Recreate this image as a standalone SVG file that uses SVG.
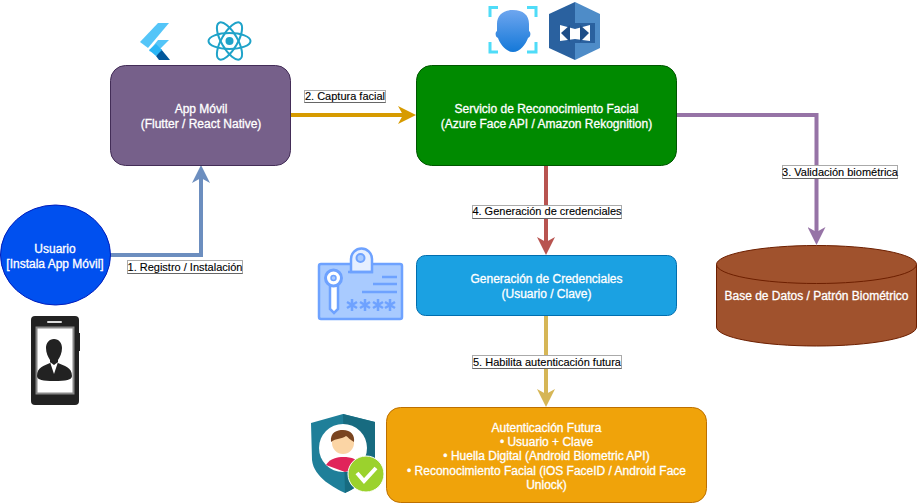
<svg xmlns="http://www.w3.org/2000/svg" width="917" height="504" viewBox="0 0 917 504">
<defs>
<style>
text{font-family:"Liberation Sans",Arial,sans-serif;text-anchor:middle}
.n{font-size:12px;fill:#fff;stroke:#fff;stroke-width:.3px}
.l{font-size:11px;fill:#000;stroke:#000;stroke-width:.12px}
.lb{fill:#fff;stroke:#aaa;stroke-width:1}
.ls{fill:none;stroke:#666;stroke-width:1}
.c{fill:none;stroke-width:4}
</style>
<marker id="ab" markerUnits="userSpaceOnUse" markerWidth="20" markerHeight="18" refX="10" refY="9" orient="auto"><path d="M0 0L18 9L0 18L5 9Z" fill="#6c8ebf"/></marker>
<marker id="ag" markerUnits="userSpaceOnUse" markerWidth="20" markerHeight="18" refX="10" refY="9" orient="auto"><path d="M0 0L18 9L0 18L5 9Z" fill="#d79b00"/></marker>
<marker id="ap" markerUnits="userSpaceOnUse" markerWidth="20" markerHeight="18" refX="10" refY="9" orient="auto"><path d="M0 0L18 9L0 18L5 9Z" fill="#9673a6"/></marker>
<marker id="ar" markerUnits="userSpaceOnUse" markerWidth="20" markerHeight="18" refX="10" refY="9" orient="auto"><path d="M0 0L18 9L0 18L5 9Z" fill="#b85450"/></marker>
<marker id="ay" markerUnits="userSpaceOnUse" markerWidth="20" markerHeight="18" refX="10" refY="9" orient="auto"><path d="M0 0L18 9L0 18L5 9Z" fill="#d6b656"/></marker>
<linearGradient id="face" x1="0" y1="0" x2="0" y2="1"><stop offset="0" stop-color="#6ea6ef"/><stop offset="1" stop-color="#1478d8"/></linearGradient>
</defs>
<g id="connectors">
<path class="c" stroke="#6c8ebf" marker-end="url(#ab)" d="M110 255H201V173"/>
<path class="c" stroke="#d79b00" marker-end="url(#ag)" d="M291 115H408"/>
<path class="c" stroke="#9673a6" marker-end="url(#ap)" d="M677 115H816.500V237"/>
<path class="c" stroke="#b85450" marker-end="url(#ar)" d="M546 166V247"/>
<path class="c" stroke="#d6b656" marker-end="url(#ay)" d="M546 316V399"/>
</g>
<g id="edge-labels">
<g id="label-1"><rect class="lb" x="127.500" y="260.500" width="115" height="13"/><path class="ls" d="M127.500 273.500H242.500"/><text class="l" x="185" y="270.500">1. Registro / Instalación</text></g>
<g id="label-2"><rect class="lb" x="304.500" y="90.500" width="81" height="12"/><path class="ls" d="M304.500 102.500H385.500"/><text class="l" x="345" y="100">2. Captura facial</text></g>
<g id="label-3"><rect class="lb" x="782.500" y="165.500" width="115" height="13"/><path class="ls" d="M782.500 178.500H897.500"/><text class="l" x="840" y="176">3. Validación biométrica</text></g>
<g id="label-4"><rect class="lb" x="472.500" y="205.500" width="149" height="13"/><path class="ls" d="M472.500 218.500H621.500"/><text class="l" x="547" y="215">4. Generación de credenciales</text></g>
<g id="label-5"><rect class="lb" x="472.500" y="355.500" width="149" height="13"/><path class="ls" d="M472.500 368.500H621.500"/><text class="l" x="547" y="365.500">5. Habilita autenticación futura</text></g>
</g>
<g id="app">
<rect x="110.500" y="65.500" width="180" height="100" rx="15" fill="#76608a" stroke="#432d57"/>
<text class="n" x="201" y="112.500">App Móvil</text><text class="n" x="201" y="127.500">(Flutter / React Native)</text>
</g>
<g id="servicio">
<rect x="416.500" y="65.500" width="260" height="100" rx="15" fill="#008a00" stroke="#005700"/>
<text class="n" x="546.500" y="112.500">Servicio de Reconocimiento Facial</text><text class="n" x="546.500" y="127.500">(Azure Face API / Amazon Rekognition)</text>
</g>
<g id="usuario">
<ellipse cx="55.500" cy="255" rx="55" ry="50" fill="#0050ef" stroke="#001dbc"/>
<text class="n" x="55" y="253">Usuario</text><text class="n" x="55" y="268">[Instala App Móvil]</text>
</g>
<g id="credenciales">
<rect x="416.500" y="255.500" width="260" height="60" rx="9" fill="#1ba1e2" stroke="#006eaf"/>
<text class="n" x="546.500" y="283">Generación de Credenciales</text><text class="n" x="546.500" y="298">(Usuario / Clave)</text>
</g>
<g id="autenticacion">
<rect x="386.500" y="407.500" width="320" height="95" rx="14" fill="#f0a30a" stroke="#bd7000"/>
<text class="n" x="546.500" y="432">Autenticación Futura</text>
<text class="n" x="546.500" y="446">• Usuario + Clave</text>
<text class="n" x="546.500" y="460">• Huella Digital (Android Biometric API)</text>
<text class="n" x="546.500" y="475">• Reconocimiento Facial (iOS FaceID / Android Face</text>
<text class="n" x="546.500" y="489">Unlock)</text>
</g>
<g id="base-datos">
<path d="M716.500 264.500A100 19 0 0 1 916.500 264.500V327A100 19 0 0 1 716.500 327Z" fill="#a0522d" stroke="#6d1f00"/>
<path d="M716.500 264.500A100 19 0 0 0 916.500 264.500" fill="none" stroke="#6d1f00"/>
<text class="n" x="816.500" y="300">Base de Datos / Patrón Biométrico</text>
</g>
<g id="icon-flutter">
<path d="M140 42L158 23H169L148 48Z" fill="#54c5f8"/>
<path d="M149 51L158 40H169L156 53Z" fill="#54c5f8"/>
<path d="M156 56L161 49L170 60H159Z" fill="#01579b"/>
<path d="M149 50L156 44L162 50L156 56Z" fill="#29b6f6"/>
</g>
<g id="icon-react" fill="none" stroke="#1fa3c9" stroke-width="2">
<ellipse cx="229.500" cy="41" rx="21" ry="8"/>
<ellipse cx="229.500" cy="41" rx="21" ry="8" transform="rotate(60 229.500 41)"/>
<ellipse cx="229.500" cy="41" rx="21" ry="8" transform="rotate(120 229.500 41)"/>
<circle cx="229.500" cy="41" r="4" fill="#1fa3c9" stroke="none"/>
</g>
<g id="icon-face">
<path d="M490 17V7.500H498M527 7.500H536V17M536 42V52H527M498 52H490V42" fill="none" stroke="#4fdcf8" stroke-width="3"/>
<path d="M513 10C503 10 497 15 497 24V31C495 32 495 37 498 38C500 44 506 52 513 52C520 52 526 44 528 38C531 37 531 32 529 31V24C529 15 523 10 513 10Z" fill="url(#face)"/>
</g>
<g id="icon-rekognition">
<path d="M575 2L549 14V48L575 60Z" fill="#2a619f"/>
<path d="M575 2L600 14V48L575 60Z" fill="#4e8cc8"/>
<path d="M553 23H595V43H553Z" fill="#2a619f"/>
<path d="M560 25L575 29L590 25V41L575 39L560 41Z" fill="#fff"/>
<path d="M561 33L570 25V42Z" fill="#1f4f88"/>
<path d="M589 33L580 25V42Z" fill="#1f4f88"/>
</g>
<g id="icon-telefono">
<rect x="31" y="316" width="48" height="89" rx="4" fill="#222"/>
<rect x="36.500" y="327.500" width="37" height="66" fill="#fff" stroke="#888" stroke-width="2"/>
<rect x="47" y="321" width="15" height="2" rx="1" fill="#ddd"/>
<rect x="78" y="333" width="2" height="18" fill="#222"/>
<path d="M54 339C49 339 46 343 46 348C46 353 48 357 50 360V363C44 366 37 367 37 376C37 380 43 381 54 381C66 381 72 380 72 376C72 367 64 366 58 363V360C60 357 62 353 62 348C62 343 59 339 54 339Z" fill="#222"/>
<path d="M50 362L54 374L58 362L54 365Z" fill="#fff"/>
</g>
<g id="icon-tarjeta">
<rect x="319" y="264" width="83" height="55" rx="2" fill="#a9cbff" stroke="#6ea2ff" stroke-width="2.500"/>
<path d="M351 272V259A10.500 10.500 0 0 1 372 259V272Z" fill="#e6efff" stroke="#6ea2ff" stroke-width="2.500"/>
<circle cx="360.500" cy="258" r="4" fill="#a9cbff" stroke="#6ea2ff" stroke-width="2"/>
<path d="M348 272H373M382 277H397M373 284H397M362 292H397" stroke="#6ea2ff" stroke-width="2.500" fill="none"/>
<path d="M330 284V309L334 313L338 309V284" fill="#fff" stroke="#6ea2ff" stroke-width="2.500"/>
<circle cx="333.500" cy="278" r="8" fill="#fff" stroke="#6ea2ff" stroke-width="3"/>
<circle cx="333.500" cy="278" r="2.500" fill="#a9cbff" stroke="#6ea2ff" stroke-width="1.500"/>
<g fill="none" stroke="#6ea2ff" stroke-width="2.500">
<path d="M352 299V311M347 302L357 308M357 302L347 308"/>
<path d="M365 299V311M360 302L370 308M370 302L360 308"/>
<path d="M378 299V311M373 302L383 308M383 302L373 308"/>
<path d="M390 299V311M385 302L395 308M395 302L385 308"/>
</g>
</g>
<g id="icon-escudo">
<path d="M311 423L343 414L375 422V460C375 478 355 488 345 493C335 488 314 478 312 460Z" fill="#1f7f99"/>
<path d="M343 414L375 422V460C375 478 355 488 345 493Z" fill="#176b80"/>
<circle cx="343" cy="448" r="24" fill="#fff"/>
<path d="M326 465C330 458 338 457 343 457C352 457 358 459 362 466L345 472Z" fill="#e0245a"/>
<circle cx="343" cy="443" r="11" fill="#fbd5a5"/>
<path d="M331 442C330 432 337 430 343 430C351 430 355 435 354 442C350 440 348 437 346 436C342 439 336 438 331 442Z" fill="#7a4520"/>
<circle cx="366" cy="474" r="18" fill="#9bd22d" stroke="#fff" stroke-width="1"/>
<path d="M357 473L364 481L376 468" fill="none" stroke="#fff" stroke-width="4"/>
</g>
</svg>
